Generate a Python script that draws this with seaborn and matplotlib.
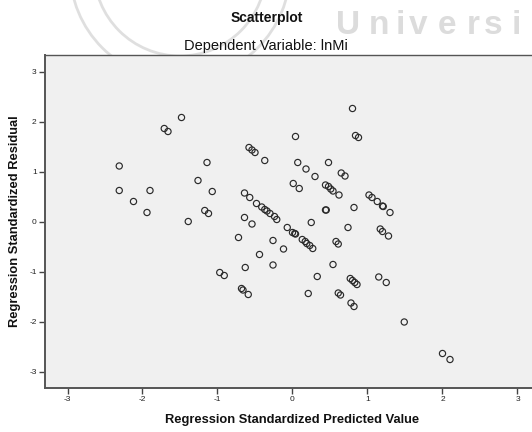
import matplotlib
matplotlib.use("Agg")
import matplotlib.pyplot as plt
from matplotlib.patches import Circle
from matplotlib.transforms import IdentityTransform
import numpy as np
import pandas as pd
import seaborn as sns

# Standardized predicted values (x) and standardized residuals (y)
predicted = [
    -2.31, -2.31, -2.12, -1.94, -1.90, -1.71, -1.66, -1.48, -1.14, -1.26,
    -1.07, -1.17, -1.12, -1.39,
    0.80, 0.84, 0.88, 0.04, -0.58, -0.54, -0.50, -0.37, 0.07, 0.48,
    0.18, 0.30, 0.65, 0.70, 0.01, 0.09, 0.44, 0.48, 0.51, 0.54,
    0.62, 1.02, 1.06, 1.13, 1.20, 1.21, 1.30, 0.82,
    -0.64, -0.57, -0.48, -0.41, -0.37, -0.34, -0.30, -0.24, -0.21, 0.45,
    0.44, -0.64, -0.54, 0.25, 0.74, 1.17, 1.20, 1.28, -0.72, -0.07,
    0.00, 0.03, 0.04, 0.13, 0.17, 0.19, 0.23, 0.27, 0.58, 0.61,
    -0.26, -0.44, -0.12,
    -0.63, -0.26, 0.54, 0.33, -0.97, -0.91, 0.77, 0.80, 0.83, 0.86,
    1.15, 1.25, -0.68, -0.66, -0.59, 0.21, 0.61, 0.64, 0.78, 0.82,
    1.49, 2.00, 2.10,
]
residual = [
    1.12, 0.63, 0.41, 0.19, 0.63, 1.87, 1.81, 2.09, 1.19, 0.83,
    0.61, 0.23, 0.17, 0.01,
    2.27, 1.73, 1.69, 1.71, 1.49, 1.44, 1.39, 1.23, 1.19, 1.19,
    1.06, 0.91, 0.98, 0.92, 0.77, 0.67, 0.74, 0.71, 0.66, 0.62,
    0.54, 0.54, 0.49, 0.41, 0.32, 0.31, 0.19, 0.29,
    0.58, 0.49, 0.37, 0.30, 0.25, 0.22, 0.17, 0.11, 0.05, 0.24,
    0.24, 0.09, -0.04, -0.01, -0.11, -0.14, -0.19, -0.28, -0.31, -0.11,
    -0.21, -0.23, -0.24, -0.35, -0.39, -0.43, -0.47, -0.53, -0.39, -0.44,
    -0.37, -0.65, -0.54,
    -0.91, -0.86, -0.85, -1.09, -1.01, -1.07, -1.13, -1.17, -1.21, -1.25,
    -1.10, -1.21, -1.33, -1.36, -1.45, -1.43, -1.42, -1.46, -1.62, -1.69,
    -2.00, -2.63, -2.75,
]
tick_values = [-3, -2, -1, 0, 1, 2, 3]

df = pd.DataFrame({"pred": predicted, "resid": residual})

sns.set_theme(style="white")
plt.rcParams["font.family"] = ["Liberation Sans", "DejaVu Sans"]

fig = plt.figure(figsize=(5.32, 4.32), dpi=100)
fig.patch.set_facecolor("white")
ax = fig.add_axes([45 / 532, 44 / 432, 495 / 532, 333 / 432])
ax.set_facecolor("#f0f0f0")

sns.scatterplot(data=df, x="pred", y="resid", ax=ax, s=20,
                facecolor="none", edgecolor="#2a2a2a", linewidth=0.85,
                zorder=3)

ax.set_xlim(-3.3, 3.3)
ax.set_ylim(-3.32, 3.34)
ax.set_xticks(tick_values)
ax.set_yticks(tick_values)
ax.set_xticklabels([str(v) for v in tick_values])
ax.set_yticklabels([str(v) for v in tick_values])
ax.tick_params(axis="both", direction="out", length=4, width=1,
               color="#444444", labelsize=6, labelcolor="#222222", pad=2)
ax.tick_params(axis="x", bottom=True)
ax.tick_params(axis="y", left=True)

for side, spine in ax.spines.items():
    spine.set_color("#555555")
    spine.set_linewidth(1.0 if side in ("top", "right") else 1.4)

ax.set_xlabel("Regression Standardized Predicted Value", fontsize=9.3,
              fontweight="bold", color="#111111", labelpad=8)
ax.set_ylabel("Regression Standardized Residual", fontsize=9.3,
              fontweight="bold", color="#111111", labelpad=6)

fig.text(267 / 532, 1 - 18 / 432, "Scatterplot", ha="center", va="center",
         fontsize=10, fontweight="bold", color="#111111")
fig.text(266 / 532, 1 - 46 / 432, "Dependent Variable: lnMi", ha="center",
         va="center", fontsize=10.5, color="#111111")

# faint institutional stamp in the page background
for r in (110, 86):
    fig.add_artist(Circle((180, 462), r, transform=IdentityTransform(),
                          fill=False, edgecolor="#d8d8d8", linewidth=2,
                          alpha=0.8, zorder=0))
stamp_letters = list("Universi")
stamp_x = [336, 369, 396, 409, 438, 467, 484, 512]
for ch, px in zip(stamp_letters, stamp_x):
    fig.text(px / 532, 1 - 34 / 432, ch, ha="left", va="baseline",
             fontsize=24, fontweight="bold", color="#dcdcdc", zorder=0)

fig.savefig("out.png", dpi=100)
